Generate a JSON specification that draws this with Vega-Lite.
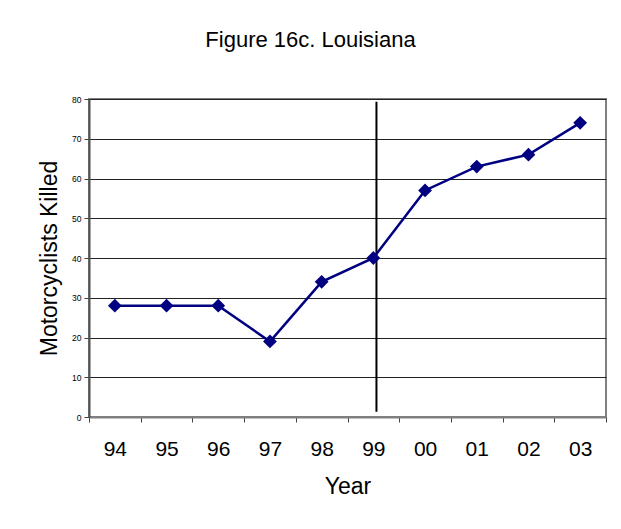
{
  "$schema": "https://vega.github.io/schema/vega-lite/v6.json",
  "width": 517,
  "height": 318,
  "autosize": {"type": "none"},
  "padding": {"left": 89, "top": 99, "right": 15, "bottom": 112},
  "background": "white",
  "title": {
    "text": "Figure 16c. Louisiana",
    "font": "Liberation Sans",
    "fontSize": 22,
    "fontWeight": "normal",
    "color": "black",
    "offset": 43,
    "dx": -37
  },
  "config": {
    "view": {"stroke": "#808080", "strokeWidth": 2},
    "axis": {
      "labelFont": "Liberation Sans",
      "titleFont": "Liberation Sans",
      "labelColor": "black",
      "titleColor": "black",
      "titleFontWeight": "normal",
      "tickColor": "#404040",
      "tickSize": 5
    },
    "axisX": {
      "titleFontSize": 23,
      "titlePadding": 16,
      "labelFontSize": 21,
      "labelAngle": 0,
      "labelPadding": 16,
      "grid": false,
      "domainColor": "#808080",
      "domainWidth": 2
    },
    "axisY": {
      "titleFontSize": 23,
      "titlePadding": 10,
      "labelFontSize": 8.5,
      "labelPadding": 3,
      "labelOverlap": false,
      "grid": true,
      "gridColor": "#222222",
      "gridWidth": 1,
      "gridOpacity": 1,
      "domainColor": "#505050",
      "domainWidth": 2
    }
  },
  "layer": [
    {
      "data": {"values": [{"year": "99", "low": 1.3, "high": 79.3}]},
      "mark": {"type": "rule", "color": "black", "strokeWidth": 2},
      "encoding": {
        "x": {"field": "year", "type": "nominal", "sort": null, "bandPosition": 0.56,
              "scale": {"type": "band", "paddingInner": 0, "paddingOuter": 0,
                        "domain": ["94","95","96","97","98","99","00","01","02","03"]},
              "axis": {"title": "Year", "tickBand": "extent"}},
        "y": {"field": "low", "type": "quantitative",
              "scale": {"domain": [0, 80], "nice": false},
              "axis": {"title": "Motorcyclists Killed", "values": [0, 10, 20, 30, 40, 50, 60, 70, 80]}},
        "y2": {"field": "high"}
      }
    },
    {
      "data": {
        "values": [
          {"year": "94", "killed": 28},
          {"year": "95", "killed": 28},
          {"year": "96", "killed": 28},
          {"year": "97", "killed": 19},
          {"year": "98", "killed": 34},
          {"year": "99", "killed": 40},
          {"year": "00", "killed": 57},
          {"year": "01", "killed": 63},
          {"year": "02", "killed": 66},
          {"year": "03", "killed": 74}
        ]
      },
      "mark": {
        "type": "line",
        "color": "#000080",
        "strokeWidth": 2.5,
        "point": {"shape": "diamond", "size": 190, "filled": true, "color": "#000080", "opacity": 1}
      },
      "encoding": {
        "x": {
          "field": "year",
          "type": "nominal",
          "sort": null,
          "scale": {"type": "band", "paddingInner": 0, "paddingOuter": 0,
                    "domain": ["94","95","96","97","98","99","00","01","02","03"]},
          "axis": {"title": "Year", "tickBand": "extent"}
        },
        "y": {
          "field": "killed",
          "type": "quantitative",
          "scale": {"domain": [0, 80], "nice": false},
          "axis": {"title": "Motorcyclists Killed", "values": [0, 10, 20, 30, 40, 50, 60, 70, 80]}
        }
      }
    }
  ]
}
